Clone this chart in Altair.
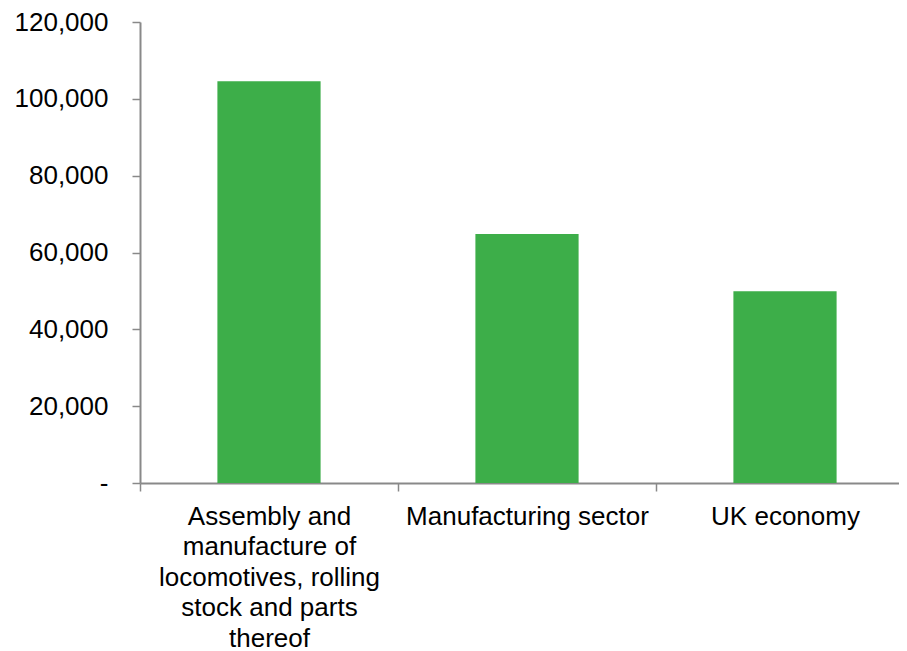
import altair as alt
import pandas as pd

categories = [
    "Assembly and manufacture of locomotives, rolling stock and parts thereof",
    "Manufacturing sector",
    "UK economy",
]
label_lines = [
    "Assembly and|manufacture of|locomotives, rolling|stock and parts|thereof",
    "Manufacturing sector",
    "UK economy",
]
values = [104600, 64800, 49900]
y_ticks = [0, 20000, 40000, 60000, 80000, 100000, 120000]

df = pd.DataFrame({"category": label_lines, "value": values})

FONT = "Liberation Sans"
GREY = "#898989"

chart = (
    alt.Chart(df)
    .mark_bar(color="#3DAE49")
    .encode(
        x=alt.X(
            "category:N",
            sort=label_lines,
            title=None,
            scale=alt.Scale(range=[0, 774], paddingInner=0.6, paddingOuter=0.3),
            axis=alt.Axis(
                labelExpr="split(datum.label, '|')",
                labelAngle=0,
                labelFontSize=26,
                labelFont=FONT,
                labelColor="#000000",
                labelLineHeight=30.5,
                labelBaseline="top",
                labelPadding=12,
                labelLimit=0,
                tickOffset=-129,
                labelOffset=129,
                tickSize=8,
                tickColor=GREY,
                tickWidth=1.5,
                domainColor=GREY,
                domainWidth=2,
                grid=False,
            ),
        ),
        y=alt.Y(
            "value:Q",
            title=None,
            scale=alt.Scale(domain=[0, 120000], nice=False),
            axis=alt.Axis(
                values=y_ticks,
                labelExpr="datum.value == 0 ? '-' : format(datum.value, ',')",
                labelFontSize=26,
                labelFont=FONT,
                labelColor="#000000",
                labelPadding=24,
                tickSize=8,
                tickColor=GREY,
                tickWidth=1.5,
                domainColor=GREY,
                domainWidth=2,
                grid=False,
            ),
        ),
    )
    .properties(
        width=759,
        height=461,
        autosize=alt.AutoSizeParams(type="none"),
        padding={"left": 132, "top": 14, "right": 0, "bottom": 168},
    )
    .configure_view(stroke=None)
)

chart.save("out.html", embed_options={"renderer": "svg", "actions": False})
